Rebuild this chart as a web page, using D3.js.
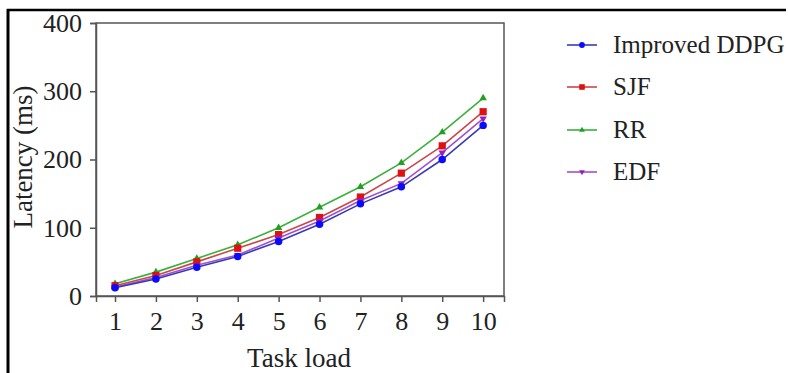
<!DOCTYPE html>
<html><head><meta charset="utf-8">
<script src="https://cdn.jsdelivr.net/npm/d3@7"></script>
<style>body{margin:0;background:#fff}svg{display:block}
svg text{font-family:"Liberation Serif","DejaVu Serif","Times New Roman",serif !important;}</style>
</head><body><svg id="c" width="788" height="373"></svg>
<script>
const categories = [1,2,3,4,5,6,7,8,9,10];
const seriesNames = ["Improved DDPG","SJF","RR","EDF"];
const ddpg = [12,25,42,58,80,105,135,160,200,250];
const sjf  = [15,30,50,70,90,115,145,180,220,270];
const rr   = [18,35,55,75,100,130,160,195,240,290];
const edf  = [13,27,45,60,85,110,140,165,210,260];
const yTicks = [0,100,200,300,400];

const series = [
  {name:seriesNames[0], values:ddpg, line:"#3a3ab4", mark:"#0a0aff", sym:d3.symbolCircle, size:44},
  {name:seriesNames[1], values:sjf,  line:"#c84848", mark:"#e01010", sym:d3.symbolSquare, size:52},
  {name:seriesNames[2], values:rr,   line:"#3cb03c", mark:"#20a020", sym:d3.symbolTriangle, size:24},
  {name:seriesNames[3], values:edf,  line:"#a050d0", mark:"#9020c0", sym:d3.symbolTriangle, size:24, rot:180}
];
const drawOrder = [2,1,3,0];

const svg = d3.select("#c");
// outer border (left & top)
svg.append("line").attr("x1",8).attr("x2",8).attr("y1",9).attr("y2",373).attr("stroke","#000").attr("stroke-width",3);
svg.append("line").attr("x1",7).attr("x2",786).attr("y1",10).attr("y2",10).attr("stroke","#000").attr("stroke-width",2.5);

const L=96, R=504, T=23, B=296;
const x = d3.scaleLinear().domain([0.535,10.51]).range([L,R]);
const y = d3.scaleLinear().domain([0,400]).range([B,T]);
const axisColor = "#555";

svg.append("rect").attr("x",L).attr("y",T).attr("width",R-L).attr("height",B-T)
  .attr("fill","none").attr("stroke",axisColor).attr("stroke-width",1.5);

const gx = svg.append("g").attr("transform",`translate(0,${B})`)
  .call(d3.axisBottom(x).tickValues(categories).tickSize(6).tickPadding(10).tickFormat(d3.format("d")));
const gy = svg.append("g").attr("transform",`translate(${L},0)`)
  .call(d3.axisLeft(y).tickValues(yTicks).tickSize(6).tickPadding(8));
[gx,gy].forEach(g=>{
  g.attr("font-family",null);
  g.select(".domain").attr("stroke",axisColor).attr("stroke-width",1.5);
  g.selectAll(".tick line").attr("stroke",axisColor).attr("stroke-width",1.5);
  g.selectAll("text").attr("font-size",26).attr("fill","#222");
});

svg.append("text").attr("x",299).attr("y",367).attr("text-anchor","middle")
  .attr("font-size",27).attr("fill","#222").text("Task load");
svg.append("text").attr("transform","translate(32,157) rotate(-90)").attr("text-anchor","middle")
  .attr("font-size",27).attr("fill","#222").text("Latency (ms)");

const line = d3.line().x((d,i)=>x(categories[i])).y(d=>y(d)).curve(d3.curveLinear);
drawOrder.forEach(k=>{
  const s = series[k];
  svg.append("path").attr("d",line(s.values)).attr("fill","none").attr("stroke",s.line).attr("stroke-width",1.6);
  svg.append("g").selectAll("path").data(s.values).join("path")
    .attr("transform",(d,i)=>`translate(${x(categories[i])},${y(d)}) rotate(${s.rot||0})`)
    .attr("d",d3.symbol().type(s.sym).size(s.size)).attr("fill",s.mark);
});

// legend
const legY = [45,87,130,172];
series.forEach((s,i)=>{
  const g = svg.append("g").attr("transform",`translate(0,${legY[i]})`);
  g.append("line").attr("x1",567).attr("x2",597).attr("y1",0).attr("y2",0).attr("stroke",s.line).attr("stroke-width",1.6);
  g.append("path").attr("transform",`translate(582,0) rotate(${s.rot||0})`)
    .attr("d",d3.symbol().type(s.sym).size(s.size*0.6)).attr("fill",s.mark);
  g.append("text").attr("x",613).attr("y",8).attr("font-size",25).attr("fill","#222").text(s.name);
});
</script></body></html>
